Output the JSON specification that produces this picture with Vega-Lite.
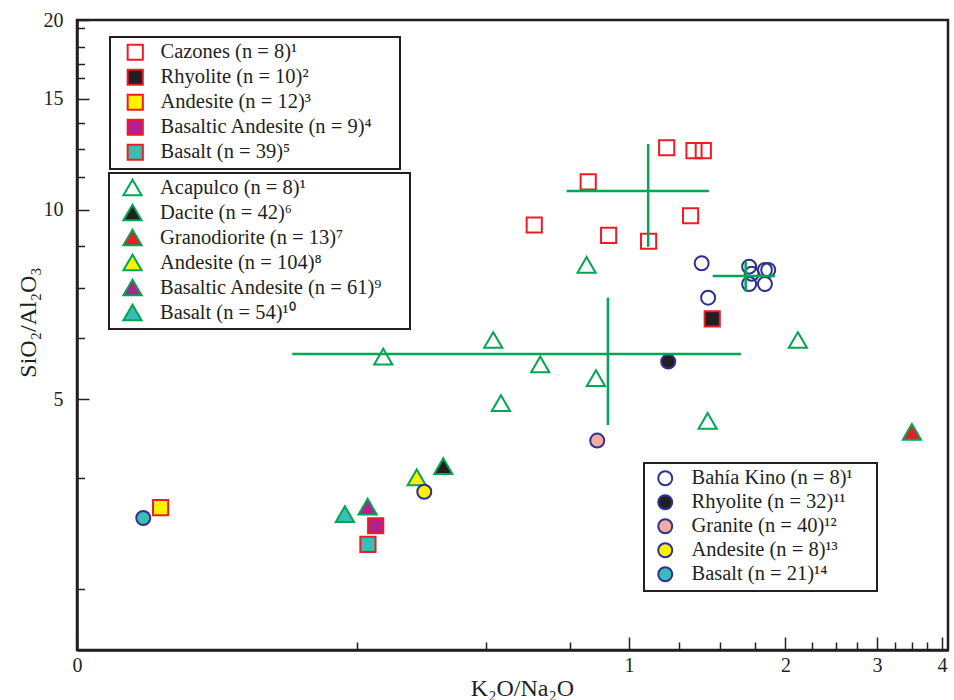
{
  "$schema": "https://vega.github.io/schema/vega-lite/v6.json",
  "autosize": "none",
  "padding": {"left": 77, "top": 20, "right": 6, "bottom": 50},
  "width": 871,
  "height": 630,
  "background": "white",
  "datasets": {
    "squares": [
      {"x": 0.6575, "y": 9.455, "label": "Cazones (n = 8)¹"},
      {"x": 0.835, "y": 11.07, "label": "Cazones (n = 8)¹"},
      {"x": 0.914, "y": 9.10, "label": "Cazones (n = 8)¹"},
      {"x": 1.091, "y": 8.91, "label": "Cazones (n = 8)¹"},
      {"x": 1.182, "y": 12.54, "label": "Cazones (n = 8)¹"},
      {"x": 1.334, "y": 12.41, "label": "Cazones (n = 8)¹"},
      {"x": 1.390, "y": 12.41, "label": "Cazones (n = 8)¹"},
      {"x": 1.314, "y": 9.78, "label": "Cazones (n = 8)¹"},
      {"x": 1.446, "y": 6.71, "label": "Rhyolite (n = 10)²"},
      {"x": 0.1257, "y": 3.365, "label": "Andesite  (n = 12)³"},
      {"x": 0.3258, "y": 3.15, "label": "Basaltic Andesite (n = 9)⁴"},
      {"x": 0.3148, "y": 2.943, "label": "Basalt (n = 39)⁵"}
    ],
    "triangles": [
      {"x": 0.3369, "y": 5.845, "label": "Acapulco (n = 8)¹"},
      {"x": 0.5483, "y": 6.21, "label": "Acapulco (n = 8)¹"},
      {"x": 0.6752, "y": 5.68, "label": "Acapulco (n = 8)¹"},
      {"x": 0.8641, "y": 5.40, "label": "Acapulco (n = 8)¹"},
      {"x": 0.5673, "y": 4.93, "label": "Acapulco (n = 8)¹"},
      {"x": 1.417, "y": 4.62, "label": "Acapulco (n = 8)¹"},
      {"x": 0.829, "y": 8.17, "label": "Acapulco (n = 8)¹"},
      {"x": 2.113, "y": 6.21, "label": "Acapulco (n = 8)¹"},
      {"x": 0.4395, "y": 3.918, "label": "Dacite (n = 42)⁶"},
      {"x": 3.501, "y": 4.437, "label": "Granodiorite (n = 13)⁷"},
      {"x": 0.3907, "y": 3.759, "label": "Andesite (n = 104)⁸"},
      {"x": 0.3144, "y": 3.377, "label": "Basaltic Andesite (n = 61)⁹"},
      {"x": 0.2843, "y": 3.287, "label": "Basalt (n = 54)¹⁰"}
    ],
    "circles": [
      {"x": 1.380, "y": 8.22, "label": "Bahía Kino (n = 8)¹"},
      {"x": 1.420, "y": 7.25, "label": "Bahía Kino (n = 8)¹"},
      {"x": 1.703, "y": 8.12, "label": "Bahía Kino (n = 8)¹"},
      {"x": 1.722, "y": 7.91, "label": "Bahía Kino (n = 8)¹"},
      {"x": 1.826, "y": 8.02, "label": "Bahía Kino (n = 8)¹"},
      {"x": 1.853, "y": 8.02, "label": "Bahía Kino (n = 8)¹"},
      {"x": 1.703, "y": 7.62, "label": "Bahía Kino (n = 8)¹"},
      {"x": 1.826, "y": 7.62, "label": "Bahía Kino (n = 8)¹"},
      {"x": 1.190, "y": 5.74, "label": "Rhyolite (n = 32)¹¹"},
      {"x": 0.869, "y": 4.30, "label": "Granite (n = 40)¹²"},
      {"x": 0.404, "y": 3.566, "label": "Andesite (n = 8)¹³"},
      {"x": 0.1164, "y": 3.24, "label": "Basalt (n = 21)¹⁴"}
    ],
    "crosses": [
      {"xc": 1.089, "yc": 10.71, "xlo": 0.759, "xhi": 1.425, "ylo": 8.73, "yhi": 12.71},
      {"xc": 0.9112, "yc": 5.90, "xlo": 0.2252, "xhi": 1.642, "ylo": 4.55, "yhi": 7.25},
      {"xc": 1.677, "yc": 7.85, "xlo": 1.449, "xhi": 1.909, "ylo": 7.41, "yhi": 8.27}
    ]
  },
  "layer": [
    {
      "data": {"name": "triangles"},
      "mark": {"type": "point", "shape": "triangle-up", "filled": true, "size": 330, "stroke": "#00a651", "strokeWidth": 2, "opacity": 1},
      "encoding": {
        "x": {"field": "x", "type": "quantitative", "scale": {"type": "log", "domain": [0.0868, 4.108], "nice": false, "zero": false},
          "axis": {"orient": "bottom", "values": [0.0868, 1, 2, 3, 4], "labelExpr": "datum.value < 0.5 ? '0' : format(datum.value, 'd')", "tickSize": -13, "tickWidth": 1.5, "labelPadding": 18, "labelFontSize": 20, "labelFlush": false, "labelOverlap": false, "domainWidth": 2.5, "title": "K₂O/Na₂O", "titleFontSize": 24, "titleX": 445, "titleY": 38, "titleBaseline": "middle"}},
        "y": {"field": "y", "type": "quantitative", "scale": {"type": "log", "domain": [2, 20], "nice": false, "zero": false},
          "axis": {"orient": "left", "values": [5, 10, 15, 20], "format": "d", "tickSize": -12, "tickWidth": 1.5, "labelPadding": 26, "labelFontSize": 20, "labelFlush": false, "labelOverlap": false, "domainWidth": 2.5, "title": "SiO₂/Al₂O₃", "titleFontSize": 24, "titleX": -49, "titleY": 302, "titleBaseline": "middle", "titleAngle": -90}},
        "fill": {"field": "label", "type": "nominal",
          "scale": {"domain": ["Acapulco (n = 8)¹", "Dacite (n = 42)⁶", "Granodiorite (n = 13)⁷", "Andesite (n = 104)⁸", "Basaltic Andesite (n = 61)⁹", "Basalt (n = 54)¹⁰"],
                    "range": ["transparent", "#231f20", "#ed1c24", "#fff200", "#b2218f", "#3cbcb8"]},
          "legend": {"title": "\u00a0", "titleOrient": "right", "titlePadding": 23, "titleFontSize": 4, "orient": "none", "legendX": 32, "legendY": 153, "symbolType": "triangle-up", "symbolSize": 330, "symbolStrokeColor": "#00a651", "symbolStrokeWidth": 2, "symbolOffset": 9, "labelOffset": 17, "rowPadding": 0, "padding": 4, "labelFont": "Liberation Serif", "labelFontSize": 20.5,
            "encode": {"labels": {"update": {"font": {"value": "Liberation Serif"}, "fontSize": {"value": 20.5}}}}}}
      }
    },
    {
      "data": {"name": "squares"},
      "mark": {"type": "point", "shape": "square", "filled": true, "size": 230, "stroke": "#ed1c24", "strokeWidth": 2, "opacity": 1},
      "encoding": {
        "x": {"field": "x", "type": "quantitative", "axis": null},
        "y": {"field": "y", "type": "quantitative", "axis": null},
        "fill": {"field": "label", "type": "nominal",
          "scale": {"domain": ["Cazones (n = 8)¹", "Rhyolite (n = 10)²", "Andesite  (n = 12)³", "Basaltic Andesite (n = 9)⁴", "Basalt (n = 39)⁵"],
                    "range": ["transparent", "#231f20", "#fff200", "#b2218f", "#3cbcb8"]},
          "legend": {"title": "\u00a0", "titleOrient": "right", "titlePadding": 22, "titleFontSize": 4, "orient": "none", "legendX": 33, "legendY": 17, "symbolType": "square", "symbolSize": 230, "symbolStrokeColor": "#ed1c24", "symbolStrokeWidth": 2, "symbolOffset": 10, "labelOffset": 15, "rowPadding": 1, "padding": 5, "labelFont": "Liberation Serif", "labelFontSize": 20.5,
            "encode": {"labels": {"update": {"font": {"value": "Liberation Serif"}, "fontSize": {"value": 20.5}}}}}}
      }
    },
    {
      "data": {"name": "circles"},
      "mark": {"type": "point", "shape": "circle", "filled": true, "size": 196, "stroke": "#2e3192", "strokeWidth": 2, "opacity": 1},
      "encoding": {
        "x": {"field": "x", "type": "quantitative", "axis": null},
        "y": {"field": "y", "type": "quantitative", "axis": null},
        "fill": {"field": "label", "type": "nominal",
          "scale": {"domain": ["Bahía Kino (n = 8)¹", "Rhyolite (n = 32)¹¹", "Granite (n = 40)¹²", "Andesite (n = 8)¹³", "Basalt (n = 21)¹⁴"],
                    "range": ["transparent", "#231f20", "#f2aca0", "#fff200", "#3cbcb8"]},
          "legend": {"title": "\u00a0", "titleOrient": "right", "titlePadding": 19, "titleFontSize": 4, "orient": "none", "legendX": 567, "legendY": 443, "symbolType": "circle", "symbolSize": 196, "symbolStrokeColor": "#2e3192", "symbolStrokeWidth": 2, "symbolOffset": 6, "labelOffset": 16, "rowPadding": 1, "padding": 5, "labelFont": "Liberation Serif", "labelFontSize": 20.5,
            "encode": {"labels": {"update": {"font": {"value": "Liberation Serif"}, "fontSize": {"value": 20.5}}}}}}
      }
    },
    {
      "data": {"name": "crosses"},
      "mark": {"type": "rule", "color": "#00a651", "strokeWidth": 2.5},
      "encoding": {
        "x": {"field": "xlo", "type": "quantitative",
          "axis": {"orient": "bottom", "values": [0.3, 0.53, 0.77, 1.25, 1.5, 1.75, 2.25, 2.5, 2.75, 3.25, 3.5, 3.75], "labels": false, "domain": false, "tickSize": -8, "tickWidth": 1.5, "title": null}},
        "x2": {"field": "xhi"},
        "y": {"field": "yc", "type": "quantitative",
          "axis": {"orient": "left", "values": [2.5, 3.75, 6.25, 7.5, 8.75, 11.25, 12.5, 13.75, 16.2, 17, 18.1, 19.4], "labels": false, "domain": false, "tickSize": -7.5, "tickWidth": 1.5, "title": null}}
      }
    },
    {
      "data": {"name": "crosses"},
      "mark": {"type": "rule", "color": "#00a651", "strokeWidth": 2.5},
      "encoding": {
        "x": {"field": "xc", "type": "quantitative", "axis": null},
        "y": {"field": "ylo", "type": "quantitative", "axis": null},
        "y2": {"field": "yhi"}
      }
    }
  ],
  "resolve": {"scale": {"fill": "independent"}, "axis": {"x": "independent", "y": "independent"}},
  "config": {
    "font": "Liberation Serif",
    "style": {"guide-label": {"font": "Liberation Serif"}, "guide-title": {"font": "Liberation Serif"}},
    "view": {"stroke": "#231f20", "strokeWidth": 2.5},
    "axis": {"grid": false, "labelFont": "Liberation Serif", "titleFont": "Liberation Serif", "titleFontWeight": "normal", "labelColor": "#231f20", "titleColor": "#231f20", "tickColor": "#231f20", "domainColor": "#231f20"},
    "legend": {"labelFont": "Liberation Serif", "labelFontSize": 20.5, "labelColor": "#231f20", "labelLimit": 400, "padding": 7, "fillColor": "white", "strokeColor": "#231f20", "strokeWidth": 2, "symbolOpacity": 1}
  }
}
